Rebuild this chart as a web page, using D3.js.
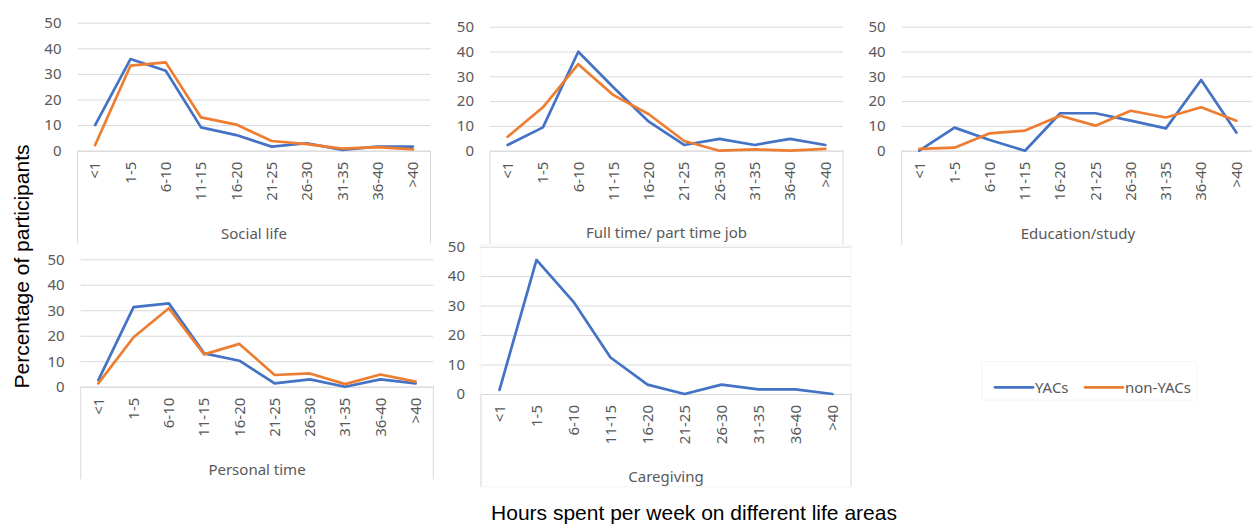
<!DOCTYPE html>
<html>
<head>
<meta charset="utf-8">
<script src="https://cdn.jsdelivr.net/npm/d3@7"></script>
<style>
  html, body { margin: 0; padding: 0; background: #fff; }
  svg { display: block; }
</style>
</head>
<body>
<svg id="chart" width="1252" height="527"></svg>
<script>
// Hour bins shared by every panel
const categories = ["<1", "1-5", "6-10", "11-15", "16-20", "21-25", "26-30", "31-35", "36-40", ">40"];
const yTicks = [0, 10, 20, 30, 40, 50];
const seriesNames = ["YACs", "non-YACs"];

// Percentage of participants per bin
const socialYACs        = [10.0, 35.8, 31.2, 9.1, 6.1, 1.6, 2.9, 0.3, 1.6, 1.6];
const socialNonYACs     = [2.2, 33.2, 34.5, 13.0, 10.2, 3.8, 2.6, 0.8, 1.4, 0.5];
const jobYACs           = [2.3, 9.4, 39.9, 25.5, 11.7, 2.3, 4.8, 2.3, 4.8, 2.3];
const jobNonYACs        = [5.6, 17.5, 34.9, 22.4, 14.7, 3.9, 0.0, 0.5, 0.0, 0.7];
const educationYACs     = [0.0, 9.3, 4.3, 0.0, 15.1, 15.1, 12.1, 9.0, 28.5, 7.3];
const educationNonYACs  = [0.7, 1.2, 7.0, 8.1, 14.1, 10.1, 16.1, 13.4, 17.5, 12.1];
const personalYACs      = [2.6, 31.2, 32.7, 13.1, 10.2, 1.3, 2.9, 0.0, 2.9, 1.3];
const personalNonYACs   = [1.3, 19.4, 30.8, 12.7, 16.8, 4.6, 5.2, 1.0, 4.8, 2.0];
const caregivingYACs    = [1.4, 45.5, 31.3, 12.4, 3.2, 0.0, 3.2, 1.6, 1.6, 0.0];

const panelTitles = ["Social life", "Full time/ part time job", "Education/study", "Personal time", "Caregiving"];

const colors = { "YACs": "#4472C4", "non-YACs": "#ED7D31" };
const gridColor = "#D9D9D9";
const textColor = "#595959";
const tickFont = "'Noto Sans', 'Open Sans', sans-serif";
const titleFont = "'Liberation Sans', Arial, sans-serif";

// Panel geometry: plot left/right, y of the 50 and 0 lines, bottom of the label band
const layout = [
  { l: 77.5,  r: 430.5, t: 22.7,  b: 150.7, base: 243.3, titleY: 233.3 },
  { l: 490,   r: 843,   t: 26.7,  b: 150.7, base: 245,   titleY: 233.0 },
  { l: 901.7, r: 1254,  t: 26.7,  b: 150.7, base: 245,   titleY: 233.3 },
  { l: 80.7,  r: 433.3, t: 259.3, b: 386.7, base: 479.3, titleY: 469.3 },
  { l: 481,   r: 851,   t: 246.7, b: 394,   base: 486.7, titleY: 476.7, backdrop: true }
];

const panelSeries = [
  [["YACs", socialYACs], ["non-YACs", socialNonYACs]],
  [["YACs", jobYACs], ["non-YACs", jobNonYACs]],
  [["YACs", educationYACs], ["non-YACs", educationNonYACs]],
  [["YACs", personalYACs], ["non-YACs", personalNonYACs]],
  [["YACs", caregivingYACs]]
];

const svg = d3.select("#chart");

layout.forEach((g, i) => {
  const panel = svg.append("g");

  if (g.backdrop) {
    panel.append("rect")
      .attr("x", g.l).attr("y", g.t - 2)
      .attr("width", g.r - g.l).attr("height", g.base - g.t + 2)
      .attr("fill", "#fff")
      .attr("stroke", "#F5F5F5").attr("stroke-width", 1);
  }

  const x = d3.scaleBand().domain(categories).range([g.l, g.r]).paddingInner(0).paddingOuter(0);
  const y = d3.scaleLinear().domain([0, 50]).range([g.b, g.t]);

  // Horizontal gridlines
  const grid = panel.append("g")
    .attr("transform", `translate(${g.l},0)`)
    .call(d3.axisLeft(y).tickValues(yTicks).tickSize(-(g.r - g.l)).tickFormat(""));
  grid.select(".domain").remove();
  grid.selectAll("line").attr("stroke", gridColor).attr("stroke-width", 1);

  // Y tick labels
  const yAxis = panel.append("g")
    .attr("transform", `translate(${g.l},0)`)
    .call(d3.axisLeft(y).tickValues(yTicks).tickSize(0).tickPadding(16));
  yAxis.select(".domain").remove();
  yAxis.selectAll("text")
    .attr("fill", textColor)
    .style("font-family", tickFont)
    .style("font-size", "15px");

  // Category label band: dividers at both ends
  panel.append("g").selectAll("line")
    .data([g.l, g.r])
    .join("line")
    .attr("x1", d => d).attr("x2", d => d)
    .attr("y1", g.b).attr("y2", g.base)
    .attr("stroke", gridColor).attr("stroke-width", 1);

  // X tick labels, rotated
  const xAxis = panel.append("g")
    .attr("transform", `translate(0,${g.b})`)
    .call(d3.axisBottom(x).tickSize(0).tickPadding(0));
  xAxis.select(".domain").attr("stroke", gridColor);
  xAxis.selectAll("text")
    .attr("fill", textColor)
    .style("font-family", tickFont)
    .style("font-size", "15px")
    .attr("text-anchor", "end")
    .attr("transform", "rotate(-90)")
    .attr("x", -11)
    .attr("y", 0)
    .attr("dy", "0.35em");

  // Panel title under the labels
  panel.append("text")
    .attr("x", (g.l + g.r) / 2)
    .attr("y", g.titleY)
    .attr("dy", "0.35em")
    .attr("text-anchor", "middle")
    .attr("fill", textColor)
    .style("font-family", tickFont)
    .style("font-size", "15px")
    .text(panelTitles[i]);

  // Series lines
  const line = d3.line()
    .x((d, k) => x(categories[k]) + x.bandwidth() / 2)
    .y(d => y(d));

  panelSeries[i].forEach(([name, values]) => {
    panel.append("path")
      .datum(values)
      .attr("d", line)
      .attr("fill", "none")
      .attr("stroke", colors[name])
      .attr("stroke-width", 2.7)
      .attr("stroke-linejoin", "round")
      .attr("stroke-linecap", "round");
  });
});

// Shared axis titles
svg.append("text")
  .attr("transform", "translate(28.5,266.5) rotate(-90)")
  .attr("text-anchor", "middle")
  .attr("fill", "#000")
  .style("font-family", titleFont)
  .style("font-size", "21px")
  .text("Percentage of participants");

svg.append("text")
  .attr("x", 694)
  .attr("y", 519.5)
  .attr("text-anchor", "middle")
  .attr("fill", "#000")
  .style("font-family", titleFont)
  .style("font-size", "21px")
  .text("Hours spent per week on different life areas");

// Legend
const legend = svg.append("g");
legend.append("rect")
  .attr("x", 981.7).attr("y", 361.7)
  .attr("width", 215).attr("height", 38.3)
  .attr("fill", "#fff")
  .attr("stroke", "#F4F4F4").attr("stroke-width", 1);

const legendItems = [
  { name: seriesNames[0], x0: 995 },
  { name: seriesNames[1], x0: 1085 }
];
legendItems.forEach(item => {
  legend.append("line")
    .attr("x1", item.x0).attr("x2", item.x0 + 38)
    .attr("y1", 387.3).attr("y2", 387.3)
    .attr("stroke", colors[item.name])
    .attr("stroke-width", 2.7)
    .attr("stroke-linecap", "round");
  legend.append("text")
    .attr("x", item.x0 + 40)
    .attr("y", 387.3)
    .attr("dy", "0.35em")
    .attr("fill", textColor)
    .style("font-family", tickFont)
    .style("font-size", "15px")
    .text(item.name);
});
</script>
</body>
</html>
